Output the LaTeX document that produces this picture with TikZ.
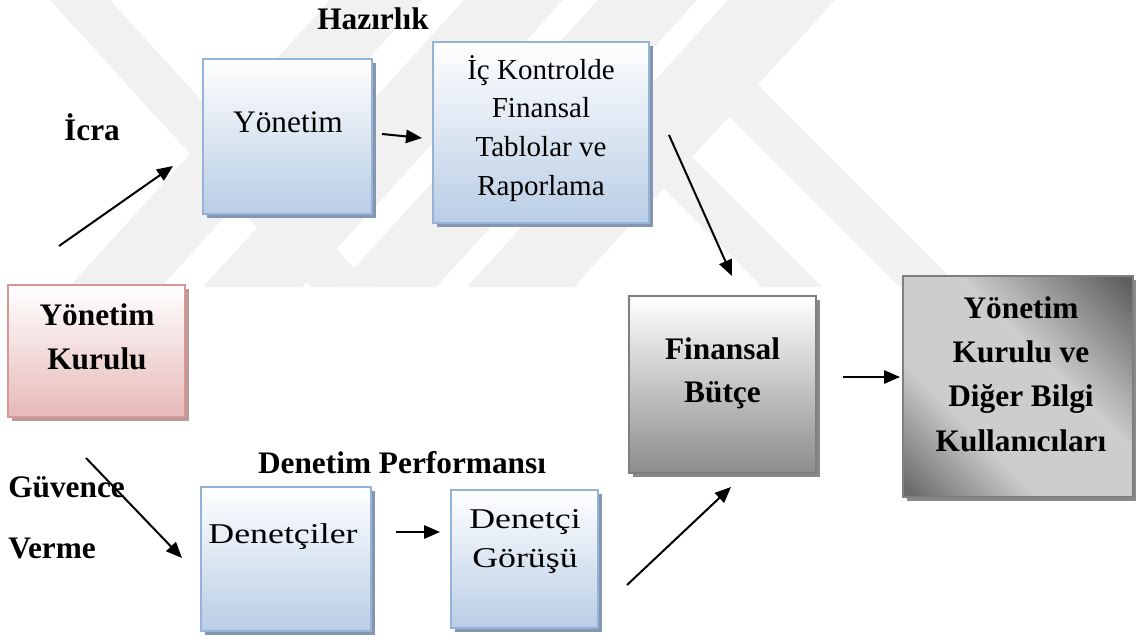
\documentclass[tikz,border=0pt]{standalone}
\usepackage{fontspec}
\setmainfont{Liberation Serif}
\newfontfamily\widefont[FakeStretch=1.25]{Liberation Serif}
\usetikzlibrary{arrows.meta,shadows}
\definecolor{blueborder}{HTML}{95B3D7}
\definecolor{bluebot}{HTML}{B9CDE5}
\definecolor{blueshadow}{HTML}{8496B0}
\definecolor{pinkborder}{HTML}{D99694}
\definecolor{pinkbot}{HTML}{E6B9B8}
\definecolor{pinkshadow}{HTML}{B89C9C}
\definecolor{grayborder}{HTML}{7F7F7F}
\definecolor{graybot}{HTML}{8C8C8C}
\definecolor{grayshadow}{HTML}{8A8A8A}
\definecolor{wm}{HTML}{F1F1F1}
\definecolor{gA}{HTML}{6A6A6A}
\definecolor{gB}{HTML}{CDCDCD}
\definecolor{gC}{HTML}{5E5E5E}
\pgfdeclarehorizontalshading{diaggray}{100bp}{color(0bp)=(gA); color(16bp)=(gA); color(36bp)=(gB); color(58bp)=(gB); color(84bp)=(gC); color(100bp)=(gC)}
\begin{document}
\begin{tikzpicture}[x=0.75pt,y=-0.75pt,
  box/.style={draw, line width=1.5pt, inner sep=0pt},
  bluebox/.style={box, draw=blueborder, top color=white, bottom color=bluebot,
    drop shadow={shadow xshift=3pt, shadow yshift=-3pt, fill=blueshadow, opacity=1}},
  pinkbox/.style={box, draw=pinkborder, top color=white, bottom color=pinkbot,
    drop shadow={shadow xshift=3pt, shadow yshift=-3pt, fill=pinkshadow, opacity=1}},
  graybox/.style={box, draw=grayborder, top color=white, bottom color=graybot,
    drop shadow={shadow xshift=3pt, shadow yshift=-3pt, fill=grayshadow, opacity=1}},
  darkbox/.style={box, draw=grayborder, shading=diaggray, shading angle=45,
    drop shadow={shadow xshift=3pt, shadow yshift=-3pt, fill=grayshadow, opacity=1}},
  txt/.style={inner sep=0pt, align=center, font=\fontsize{23.5}{33}\selectfont},
  btxt/.style={inner sep=0pt, align=center, font=\fontsize{23.5}{33}\selectfont\bfseries},
  arr/.style={line width=1.5pt, -{Triangle[length=12pt,width=10pt]}}
]
\useasboundingbox (0,0) rectangle (1136,639);
% watermark
\begin{scope}
\clip (0,0) rectangle (1136,287);
\fill[wm] (69,287) -- (161,287) -- (422,0) -- (330,0) -- cycle;
\fill[wm] (203,287) -- (302,287) -- (563,0) -- (464,0) -- cycle;
\fill[wm] (337,287) -- (436,287) -- (697,0) -- (598,0) -- cycle;
\fill[wm] (467,287) -- (574,287) -- (835,0) -- (728,0) -- cycle;
\fill[wm] (50,0) -- (110,0) -- (371,287) -- (311,287) -- cycle;
\fill[wm] (683,70) -- (743,70) -- (960,287) -- (900,287) -- cycle;
\fill[wm] (580,105) -- (640,105) -- (822,287) -- (762,287) -- cycle;
\end{scope}
% boxes
\node[bluebox, minimum width=126.75pt, minimum height=116.25pt] (yonB) at (287.5,136.5) {};
\node[bluebox, minimum width=162pt, minimum height=135.75pt] (icB) at (541,132.5) {};
\node[pinkbox, minimum width=132.75pt, minimum height=99pt] (ykB) at (96.5,351) {};
\node[graybox, minimum width=140.25pt, minimum height=132.75pt] (finB) at (722.5,384.5) {};
\node[darkbox, minimum width=172.5pt, minimum height=165.75pt] (ykdB) at (1018,386.5) {};
\node[bluebox, minimum width=127.5pt, minimum height=108pt] (denB) at (286,559) {};
\node[bluebox, minimum width=110.25pt, minimum height=103.5pt] (dgB) at (524.5,559) {};
% texts (multi-line nodes: base = last line)
\node[btxt, anchor=base] (hazT) at (373,30) {Hazırlık};
\node[btxt, anchor=base] (icraT) at (92,140) {İcra};
\node[txt, anchor=base] (yonT) at (288,132) {Yönetim};
\node[txt, anchor=base, font=\fontsize{21.75}{28.9}\selectfont] (icT) at (541,195) {İç Kontrolde\\Finansal\\Tablolar ve\\Raporlama};
\node[btxt, anchor=base] (ykT) at (97,369) {Yönetim\\Kurulu};
\node[btxt, anchor=base, font=\fontsize{23.5}{32.25}\selectfont\bfseries] (finT) at (722.5,402) {Finansal\\Bütçe};
\node[btxt, anchor=base, font=\fontsize{23.5}{33.2}\selectfont\bfseries] (ykdT) at (1021,451) {Yönetim\\Kurulu ve\\Diğer Bilgi\\Kullanıcıları};
\node[btxt, anchor=base] (dpT) at (402,473) {Denetim Performansı};
\node[btxt, anchor=base west] (guvT) at (8,497) {Güvence};
\node[btxt, anchor=base west] (verT) at (8,558) {Verme};
\node[txt, anchor=base, font=\fontsize{21.5}{29.25}\widefont] (denT) at (283,543) {Denetçiler};
\node[txt, anchor=base, font=\fontsize{21.5}{29.25}\widefont] (dgT) at (525,567) {Denetçi\\Görüşü};
% arrows
\coordinate (a1s) at (59,246); \coordinate (a1e) at (173,166);
\coordinate (a2s) at (382,134); \coordinate (a2e) at (422,138);
\coordinate (a3s) at (669,135); \coordinate (a3e) at (732,276);
\coordinate (a4s) at (86,458); \coordinate (a4e) at (182,558);
\coordinate (a5s) at (396,532); \coordinate (a5e) at (440,532);
\coordinate (a6s) at (627,585); \coordinate (a6e) at (731,487);
\coordinate (a7s) at (843,377); \coordinate (a7e) at (900,377);
\draw[arr] (a1s) -- (a1e);
\draw[arr] (a2s) -- (a2e);
\draw[arr] (a3s) -- (a3e);
\draw[arr] (a4s) -- (a4e);
\draw[arr] (a5s) -- (a5e);
\draw[arr] (a6s) -- (a6e);
\draw[arr] (a7s) -- (a7e);
\end{tikzpicture}
\end{document}
